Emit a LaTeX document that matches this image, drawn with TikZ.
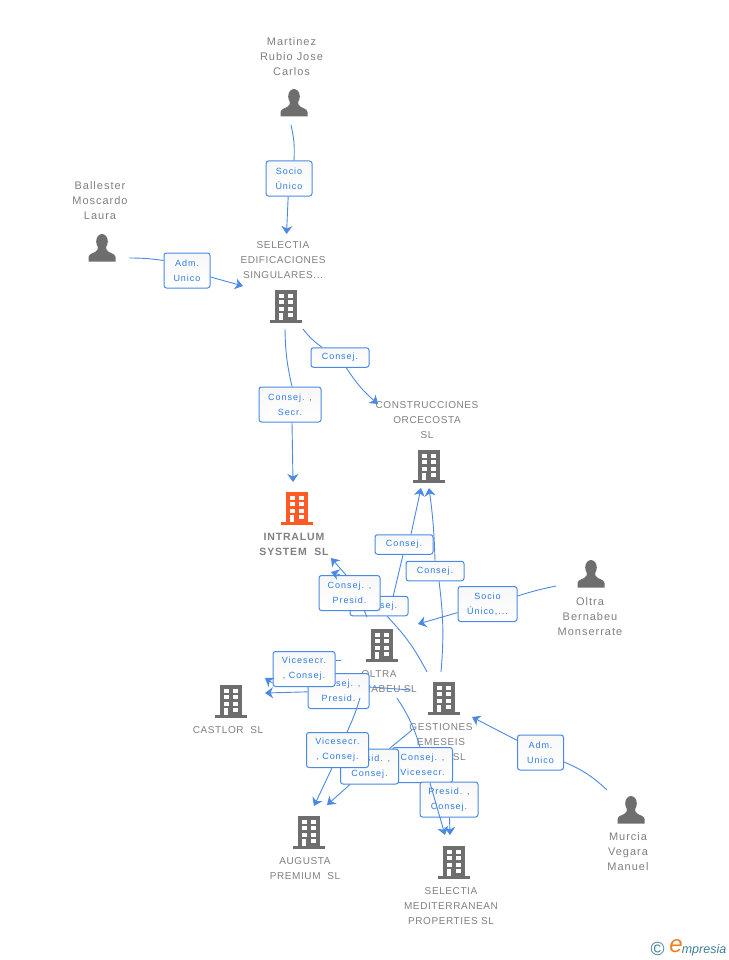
\documentclass[tikz,border=0pt]{standalone}
\usepackage{fontspec}
\setmainfont{Liberation Sans}
\newfontfamily\labelfont[LetterSpace=9]{Liberation Sans}
\newfontfamily\companyfont[LetterSpace=6]{Liberation Sans}
\newfontfamily\boldfont[LetterSpace=8]{Liberation Sans}
\newfontfamily\rolefont[LetterSpace=11]{Liberation Sans}
\usetikzlibrary{arrows.meta}

\definecolor{linkblue}{HTML}{4A8AE4}
\definecolor{roleblue}{HTML}{2F7BE6}
\definecolor{labelgray}{HTML}{808080}
\definecolor{icongray}{HTML}{6E6E6E}
\definecolor{iconorange}{HTML}{FF5A26}
\definecolor{logoteal}{HTML}{3F7F95}
\definecolor{logoorange}{HTML}{F08020}

\tikzset{
  caption/.style={align=center,text=labelgray,inner sep=0pt,font=\labelfont\fontsize{11}{15}\selectfont},
  company/.style={caption,font=\companyfont\fontsize{10}{15}\selectfont},
  rolebox/.style={draw=linkblue,line width=1pt,rounded corners=2.5pt,top color=black!3,bottom color=white,
    minimum width=#1,minimum height=35pt,inner sep=0pt,align=center,text=roleblue,
    font=\rolefont\fontsize{9}{15}\selectfont},
  rolelow/.style={rolebox=#1,minimum height=19.5pt},
  link/.style={draw=linkblue,line width=0.9pt},
  arrowlink/.style={link,-{Stealth[length=8pt,width=11pt,inset=2.5pt]}},
  person/.pic={
    \fill[icongray] (0,-6.5) ellipse (5.8pt and 7.5pt);
    \fill[icongray] (-13.5,13.5) -- (-13.5,9) .. controls (-13.5,5) and (-6,5.5) .. (-4.5,1.5)
      -- (-4,-2) -- (4,-2) -- (4.5,1.5) .. controls (6,5.5) and (13.5,5) .. (13.5,9) -- (13.5,13.5) -- cycle;
  },
  building/.pic={
    \fill[pic actions] (-11,-16.5) rectangle (11,13.5);
    \fill[pic actions] (-16,13.5) rectangle (16,16.5);
    \foreach \wy in {-12.5,-6,0.5} {
      \fill[white] (-7.5,\wy) rectangle (-2.5,\wy+4.2);
      \fill[white] (2,\wy) rectangle (7,\wy+4.2);
    }
    \fill[white] (-7.5,7) rectangle (-3.5,13.5);
    \fill[white] (2,7) rectangle (7,11.2);
  },
}

\begin{document}
\begin{tikzpicture}[x=1pt,y=-1pt]
\useasboundingbox[fill=white] (0,0) rectangle (728,960);

% icons
\foreach \px/\py in {294/103,102/248,591/574,631/810}
  \pic at (\px,\py) {person};
\foreach \px/\py in {286/306,429/466,382/645,444/698,231/701,309/832,454/862}
  \pic[fill=icongray] at (\px,\py) {building};
\pic[fill=iconorange] at (297,508) {building};

% captions
\node[caption] (martinez) at (291.5,57) {Martinez\\Rubio Jose\\Carlos};
\node[caption] (ballester) at (100,201) {Ballester\\Moscardo\\Laura};
\node[company] (edificaciones) at (283,260) {SELECTIA\\EDIFICACIONES\\SINGULARES...};
\node[company] (orcecosta) at (427,420) {CONSTRUCCIONES\\ORCECOSTA\\SL};
\node[caption,font=\boldfont\bfseries\fontsize{10.5}{15}\selectfont] (intralum) at (294,544.5) {INTRALUM\\SYSTEM\ \ SL};
\node[caption] (monserrate) at (590,617) {Oltra\\Bernabeu\\Monserrate};
\node[company] (oltra) at (379,681.5) {OLTRA\\BERNABEU SL};
\node[company] (emeseis) at (441,742) {GESTIONES\\EMESEIS\\\hphantom{000000}SL};
\node[company] (castlor) at (228,730) {CASTLOR\ \ SL};
\node[company] (augusta) at (305,868.5) {AUGUSTA\\PREMIUM\ \ SL};
\node[company] (mediterranean) at (451,906) {SELECTIA\\MEDITERRANEAN\\PROPERTIES SL};
\node[caption] (murcia) at (628,852) {Murcia\\Vegara\\Manuel};

% free ends of the links
\coordinate (fromMartinez) at (291,125);
\coordinate (toEdificaciones) at (286.5,234);
\coordinate (fromBallester) at (129,258);
\coordinate (toEdificacionesB) at (243,286);
\coordinate (fromEdifA) at (285,329);
\coordinate (toIntralumA) at (293,482);
\coordinate (fromEdifB) at (303,329);
\coordinate (toOrcecostaA) at (378,404);
\coordinate (toOrcecostaB) at (421,488);
\coordinate (toOrcecostaC) at (429,488);
\coordinate (fromOltraA) at (393,597);
\coordinate (fromEmeseisA) at (441,672);
\coordinate (fromMonserrate) at (556,586);
\coordinate (toUnico) at (418,624);
\coordinate (fromEmeseisB) at (427,672);
\coordinate (toIntralumB) at (331,558);
\coordinate (fromOltraB) at (367,617);
\coordinate (toIntralumC) at (331,572);
\coordinate (fromOltraC) at (341,660);
\coordinate (toCastlorA) at (265,678);
\coordinate (fromEmeseisC) at (411,690);
\coordinate (toCastlorB) at (265,693);
\coordinate (fromOltraD) at (360,698);
\coordinate (toAugustaA) at (314,806);
\coordinate (fromEmeseisD) at (412,730);
\coordinate (toAugustaB) at (327,805);
\coordinate (fromOltraE) at (397,698);
\coordinate (toMedA) at (445,835);
\coordinate (toMedB) at (450,835);
\coordinate (fromMurcia) at (607,790);
\coordinate (toEmeseis) at (472,717);

% links into the upper boxes
\node[rolebox=46] (socio) at (289,178.5) {Socio\\Único};
\draw[link] (fromMartinez) to[bend left=8] ([xshift=5pt]socio.north);
\draw[arrowlink] (socio) -- (toEdificaciones);

\node[rolebox=46] (adm) at (187,270.5) {Adm.\\Unico};
\draw[link] (fromBallester) to[bend left=4] ([yshift=10pt]adm.west);
\draw[arrowlink] (adm) -- (toEdificacionesB);

\node[rolebox=62] (secr) at (290,404.5) {Consej. ,\\Secr.};
\draw[link] (fromEdifA) to[bend right=6] ([xshift=2pt]secr.north);
\draw[arrowlink] ([xshift=2pt]secr.south) -- (toIntralumA);

\node[rolelow=58] (consejA) at (340,357.5) {Consej.};
\draw[link] (fromEdifB) to[bend right=8] (consejA);
\draw[arrowlink] (consejA) to[bend right=8] (toOrcecostaA);

% links around oltra and gestiones
\node[rolelow=58] (consejB) at (404,544.5) {Consej.};
\draw[link] (fromOltraA) -- ([xshift=-1pt]consejB.south);
\draw[arrowlink] ([xshift=7pt]consejB.north) -- (toOrcecostaB);

\node[rolelow=58] (consejC) at (435,571) {Consej.};
\draw[link] (fromEmeseisA) to[bend right=6] ([xshift=4pt]consejC.south);
\draw[arrowlink] (consejC.north) to[bend right=3] (toOrcecostaC);

\node[rolebox=59] (unico) at (487.5,604) {Socio\\Único,...};
\draw[link] (fromMonserrate) to[bend right=3] ([yshift=8pt]unico.east);
\draw[arrowlink] (unico) -- (toUnico);

\node[rolelow=58] (consejD) at (379,606) {Consej.};
\draw[link] (fromEmeseisB) to[bend right=8] ([xshift=8pt]consejD.south);
\node[rolebox=61] (presidA) at (349.5,593) {Consej. ,\\Presid.};
\draw[link] (fromOltraB) -- ([xshift=15pt]presidA.south);
\draw[arrowlink] ([xshift=-3.5pt]presidA.north) -- (toIntralumB);
\draw[arrowlink] ([xshift=-9.5pt]presidA.north) -- (toIntralumC);

\node[rolebox=61] (presidB) at (338.5,691) {Consej. ,\\Presid.};
\draw[link] (fromEmeseisC) -- ([yshift=4pt]presidB.east);
\draw[arrowlink] (presidB) -- (toCastlorB);
\node[rolebox=62] (vicesecrA) at (304,669) {Vicesecr.\\, Consej.};
\draw[link] (fromOltraC) -- ([yshift=9pt]vicesecrA.east);
\draw[arrowlink] ([yshift=-14pt]vicesecrA.west) -- (toCastlorA);

% links down to augusta and mediterranean
\node[rolebox=60] (vicesecrC) at (422.5,765) {Consej. ,\\Vicesecr.};
\draw[link] (fromOltraE) to[bend left=8] ([xshift=-2.5pt]vicesecrC.north);
\node[rolebox=58] (presidC) at (369.5,766.5) {Presid. ,\\Consej.};
\draw[link] (fromEmeseisD) -- ([xshift=20pt]presidC.north);
\draw[arrowlink] ([xshift=-19.5pt]presidC.south) -- (toAugustaB);
\node[rolebox=62] (vicesecrB) at (337.5,750) {Vicesecr.\\, Consej.};
\draw[link] (fromOltraD) to[bend left=4] ([xshift=9.5pt]vicesecrB.north);
\draw[arrowlink] ([xshift=-5.5pt]vicesecrB.south) -- (toAugustaA);
\node[rolebox=58] (presidD) at (449,799.5) {Presid. ,\\Consej.};
\draw[arrowlink] (presidD) -- (toMedB);
\draw[arrowlink] ([xshift=7.5pt]vicesecrC.south) -- (toMedA);

\node[rolebox=46] (admB) at (540.5,752.5) {Adm.\\Unico};
\draw[link] (fromMurcia) to[bend right=10] ([yshift=-9.5pt]admB.east);
\draw[arrowlink] (admB) -- (toEmeseis);

% logo
\node[inner sep=0pt,text=logoteal,font=\fontsize{19}{19}\selectfont] (copyr) at (657.5,949) {©};
\node[inner sep=0pt,text=logoorange,font=\itshape\fontsize{24}{24}\selectfont] (logoe) at (676,946) {e};
\node[inner sep=0pt,text=logoteal,font=\itshape\fontsize{12.5}{13}\selectfont] (logotext) at (704,950) {mpresia};

\end{tikzpicture}
\end{document}
